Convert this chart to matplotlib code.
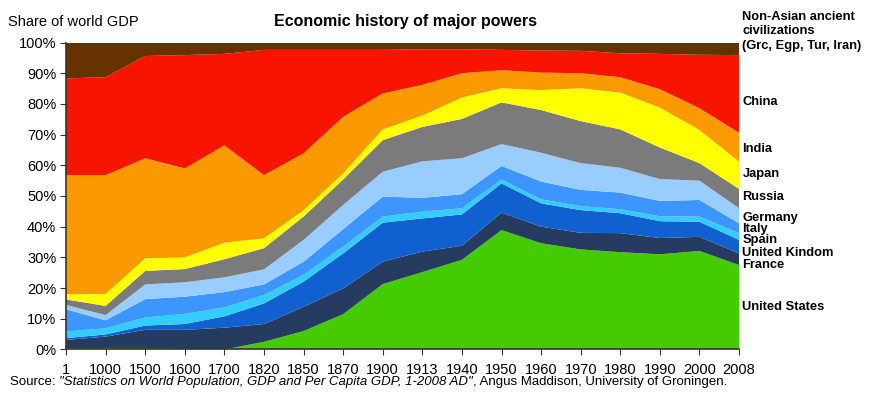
import numpy as np
import matplotlib
matplotlib.use("Agg")
import matplotlib.pyplot as plt

plt.rcParams['font.family'] = ['Liberation Sans', 'DejaVu Sans']

# years (equally spaced categories on the x axis)
years = ['1', '1000', '1500', '1600', '1700', '1820', '1850', '1870', '1900', '1913',
         '1940', '1950', '1960', '1970', '1980', '1990', '2000', '2008']

# share of world GDP (%), bottom layer first
united_states = [0.3, 0.5, 0.5, 0.2, 0.0, 2.5, 6.0, 11.5, 21.3, 25.2, 29.2, 38.9, 34.6, 32.6, 31.7, 31.0, 32.1, 27.5]
france = [2.8, 3.7, 5.9, 6.2, 7.1, 5.8, 7.9, 8.4, 7.3, 6.7, 4.6, 5.7, 5.4, 5.4, 6.2, 5.3, 4.6, 3.8]
united_kingdom = [0.6, 0.7, 1.4, 1.9, 3.7, 6.7, 8.2, 11.4, 12.7, 10.8, 10.2, 9.5, 7.6, 7.4, 6.5, 5.5, 4.9, 4.4]
spain = [2.2, 2.0, 2.6, 3.3, 2.9, 2.8, 2.2, 2.2, 2.0, 2.2, 2.0, 1.3, 1.3, 1.3, 1.3, 1.6, 1.7, 2.2]
italy = [7.2, 2.6, 6.0, 5.6, 5.0, 3.4, 4.3, 5.7, 6.5, 4.5, 4.6, 4.4, 5.8, 5.3, 5.4, 5.0, 5.4, 3.2]
germany = [1.4, 1.7, 4.8, 4.7, 4.8, 4.9, 7.1, 7.9, 8.1, 11.9, 11.7, 7.1, 9.4, 8.7, 8.1, 7.1, 6.3, 4.9]
russia = [1.8, 3.0, 4.4, 4.3, 5.9, 6.9, 7.6, 8.3, 10.3, 11.2, 12.8, 13.6, 13.9, 13.7, 12.5, 10.3, 5.7, 6.3]
japan = [1.7, 3.9, 4.1, 3.8, 5.4, 3.2, 2.1, 2.0, 3.5, 3.7, 7.0, 4.6, 6.5, 10.7, 12.0, 13.0, 10.8, 8.9]
india = [38.8, 38.7, 32.6, 29.0, 31.7, 20.6, 18.5, 18.4, 11.7, 10.0, 7.9, 5.9, 5.7, 4.9, 5.0, 6.0, 7.1, 9.4]
china = [31.5, 31.9, 33.3, 36.9, 29.8, 40.8, 33.7, 21.8, 14.2, 11.6, 7.8, 6.6, 7.2, 7.3, 7.8, 11.5, 17.4, 25.3]
non_asian = [11.7, 11.3, 4.4, 4.1, 3.7, 2.4, 2.4, 2.4, 2.4, 2.2, 2.2, 2.4, 2.6, 2.7, 3.5, 3.7, 4.0, 4.1]

layers = [united_states, france, united_kingdom, spain, italy, germany,
          russia, japan, india, china, non_asian]
colors = ['#44cc00', '#253c60', '#1060d0', '#33ccff', '#3d95ff', '#99ccff',
          '#7b7b7b', '#ffff00', '#fa9a00', '#f91400', '#663300']

# right-hand labels with their vertical position (% of axis)
labels = ['Non-Asian ancient\ncivilizations\n(Grc, Egp, Tur, Iran)', 'China', 'India', 'Japan', 'Russia',
          'Germany', 'Italy', 'Spain', 'United Kindom', 'France', 'United States']
label_y = [103.6, 80.5, 65.3, 57.2, 49.7, 42.8, 39.2, 35.6, 31.4, 27.5, 13.8]

fig = plt.figure(figsize=(8.77, 3.98), dpi=100)
ax = fig.add_axes([0.0753, 0.1219, 0.7674, 0.7713])

x = np.arange(len(years))
ax.stackplot(x, *layers, colors=colors, linewidth=0)

ax.set_xlim(0, len(years) - 1)
ax.set_ylim(0, 100)
ax.set_xticks(x)
ax.set_xticklabels(years, fontsize=10.5)
ax.set_yticks(range(0, 101, 10))
ax.set_yticklabels([f'{v}%' for v in range(0, 101, 10)], fontsize=10.5)
for s in ['top', 'right']:
    ax.spines[s].set_visible(False)
for s in ['left', 'bottom']:
    ax.spines[s].set_color('#333333')
    ax.spines[s].set_linewidth(1.2)
ax.tick_params(axis='both', direction='out', length=4, color='#333333', pad=3)
ax.tick_params(axis='x', pad=6)

for lab, yv in zip(labels, label_y):
    ax.text(1.005, yv / 100, lab, transform=ax.transAxes, fontsize=9.3,
            fontweight='bold', va='center', ha='left', linespacing=1.3)

fig.text(0.462, 0.945, 'Economic history of major powers', fontsize=11.5,
         fontweight='bold', ha='center', va='center')
fig.text(0.009, 0.945, 'Share of world GDP', fontsize=10.5, ha='left', va='center')

# source line: regular + italic + regular
fig.canvas.draw()
r = fig.canvas.get_renderer()
parts = [('Source: ', 'normal'),
         ('"Statistics on World Population, GDP and Per Capita GDP, 1-2008 AD"', 'italic'),
         (', Angus Maddison, University of Groningen.', 'normal')]
xpos = 0.011
for txt, style in parts:
    t = fig.text(xpos, 0.040, txt, fontsize=9.5, style=style, ha='left', va='center')
    bb = t.get_window_extent(renderer=r)
    xpos += bb.width / fig.bbox.width

fig.savefig('out.png', dpi=100)
